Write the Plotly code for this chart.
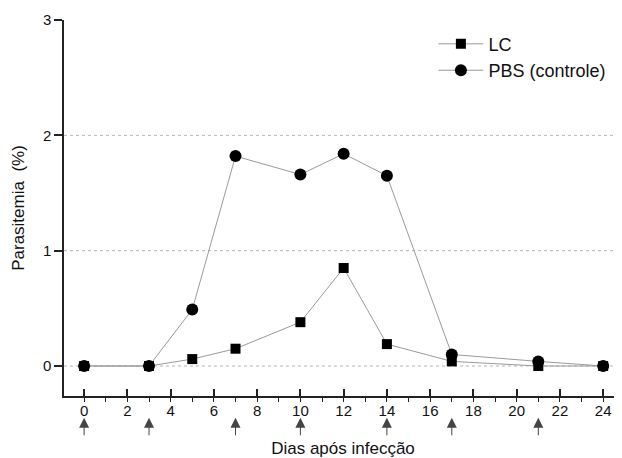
import plotly.graph_objects as go

days = [0, 3, 5, 7, 10, 12, 14, 17, 21, 24]
lc = [0.0, 0.0, 0.06, 0.15, 0.38, 0.85, 0.19, 0.04, 0.0, 0.0]
pbs = [0.0, 0.0, 0.49, 1.82, 1.66, 1.84, 1.65, 0.10, 0.04, 0.0]
arrow_days = [0, 3, 7, 10, 14, 17, 21]
grid_vals = [0, 1, 2]
x_ticks = list(range(0, 25, 2))
y_ticks = [0, 1, 2, 3]

FONT = "Liberation Sans, Arial, sans-serif"

fig = go.Figure()
fig.add_trace(go.Scatter(
    x=days, y=lc, name="LC", mode="lines+markers",
    line=dict(color="#9a9a9a", width=1),
    marker=dict(symbol="square", size=10, color="black"),
))
fig.add_trace(go.Scatter(
    x=days, y=pbs, name="PBS (controle)", mode="lines+markers",
    line=dict(color="#9a9a9a", width=1),
    marker=dict(symbol="circle", size=12, color="black"),
))

shapes = [dict(type="line", xref="paper", yref="y", x0=0, x1=1, y0=g, y1=g,
               line=dict(color="#b5b5b5", width=1, dash="dot"), layer="below")
          for g in grid_vals]

annotations = [dict(x=d, xref="x", y=-0.058, yref="paper", text="",
                    showarrow=True, ax=0, ay=19, arrowhead=2, arrowsize=2,
                    arrowwidth=1, arrowcolor="#444444")
               for d in arrow_days]

fig.update_layout(
    width=614, height=450,
    margin=dict(l=56, r=0, t=12, b=62, autoexpand=False),
    paper_bgcolor="white", plot_bgcolor="white",
    font=dict(family=FONT, size=15, color="#111"),
    showlegend=True,
    legend=dict(x=0.662, y=0.985, xanchor="left", yanchor="top",
                font=dict(size=18, family=FONT), itemwidth=45,
                bgcolor="rgba(0,0,0,0)", tracegroupgap=0),
    shapes=shapes,
    annotations=annotations,
    xaxis=dict(
        range=[-0.93, 24.87], tickvals=x_ticks, showgrid=False, zeroline=False,
        showline=True, linecolor="#222", linewidth=1.5, automargin=False,
        ticks="inside", ticklen=7, tickcolor="#222", tickwidth=1.5,
        minor=dict(dtick=1, tick0=0, ticks="outside", ticklen=4, tickcolor="#222",
                   tickwidth=1.2),
        title=dict(text="Dias após infecção", font=dict(size=17), standoff=38),
        tickfont=dict(size=15),
    ),
    yaxis=dict(
        range=[-0.26, 3.0], tickvals=y_ticks, showgrid=False, zeroline=False,
        showline=True, linecolor="#222", linewidth=1.5, automargin=False,
        ticks="outside", ticklen=8, tickcolor="#222", tickwidth=1.5,
        title=dict(text="Parasitemia  (%)", font=dict(size=17), standoff=14),
        tickfont=dict(size=15),
    ),
)

fig.write_html("out.html")
